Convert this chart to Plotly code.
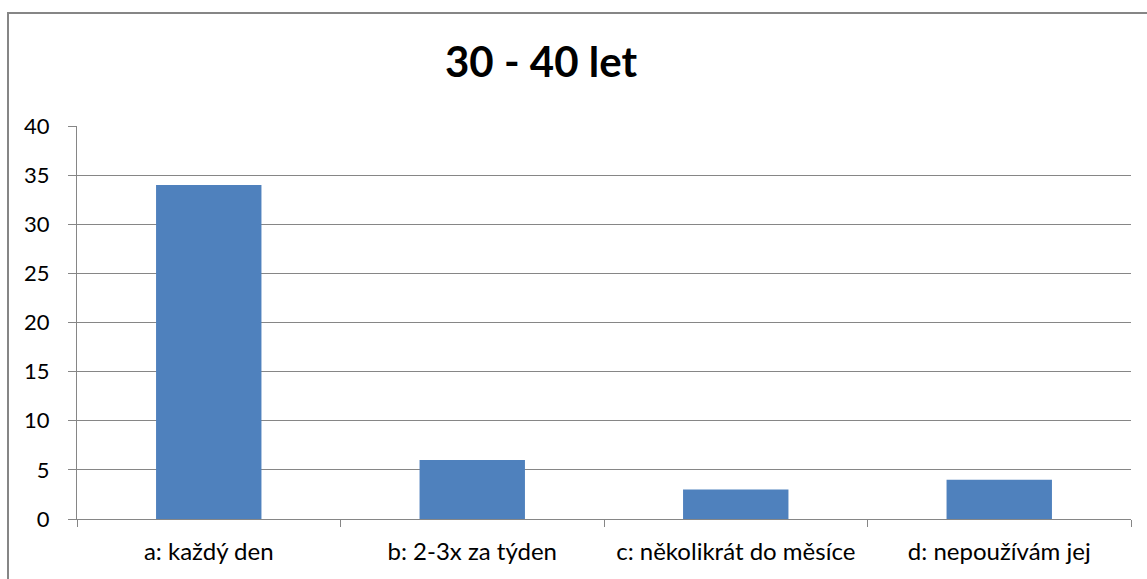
import plotly.graph_objects as go

categories = ["a: každý den", "b: 2-3x za týden", "c: několikrát do měsíce", "d: nepoužívám jej"]
values = [34, 6, 3, 4]
title_text = "30 - 40 let"

W, H = 1147, 579
L, R, T, B = 77, 1131, 126, 519

fig = go.Figure(go.Bar(x=categories, y=values, marker=dict(color="#4F81BD", line=dict(width=0)), width=0.4))

fig.update_layout(
    width=W, height=H,
    margin=dict(l=0, r=0, t=0, b=0),
    paper_bgcolor="white", plot_bgcolor="white",
    showlegend=False,
    font=dict(family="Lato", size=22, color="black"),
    xaxis=dict(domain=[L / W, R / W], type="category", range=[-0.5, 3.5], automargin=False,
               showline=True, linecolor="#868686", linewidth=1,
               ticks="outside", tickson="boundaries", ticklen=7, tickcolor="#868686",
               showgrid=False, tickfont=dict(size=24), ticklabelstandoff=11),
    yaxis=dict(domain=[(H - B) / H, (H - T) / H], range=[0, 40], dtick=5, automargin=False,
               showline=True, linecolor="#868686", linewidth=1,
               ticks="outside", ticklen=8, tickcolor="#868686",
               showgrid=True, gridcolor="#868686", gridwidth=1, zeroline=False,
               tickfont=dict(size=22), ticklabelstandoff=14),
    annotations=[dict(text="<b>" + title_text + "</b>", x=541 / W, y=1 - 61 / H,
                      xref="paper", yref="paper", showarrow=False,
                      xanchor="center", yanchor="middle",
                      font=dict(family="Lato", size=42, color="black"))],
    shapes=[dict(type="rect", xref="paper", yref="paper",
                 x0=8 / W, x1=1.2, y0=-0.2, y1=1 - 13 / H,
                 line=dict(color="#868686", width=2), fillcolor="rgba(0,0,0,0)")],
)

fig.write_html("out.html", config={"displayModeBar": False},
               post_script="document.body.style.margin='0';")
